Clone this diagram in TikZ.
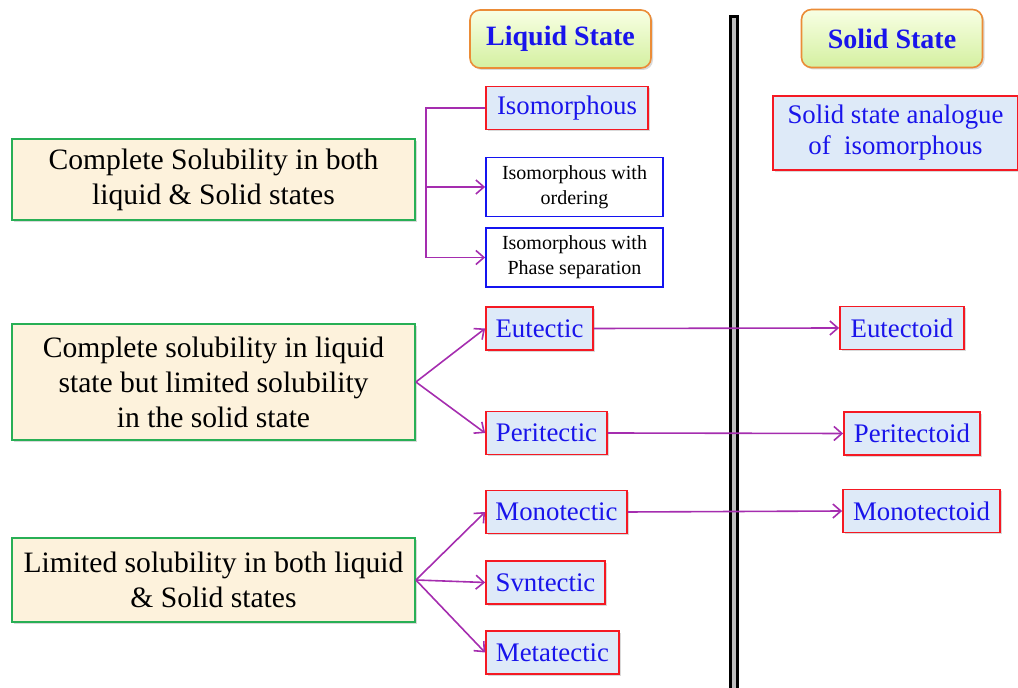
\documentclass[tikz,border=0pt]{standalone}
\usepackage{fontspec}
\setmainfont{Liberation Serif}
\usetikzlibrary{arrows.meta,shadows}
\definecolor{LinkPurple}{RGB}{165,45,175}
\definecolor{LabelBlue}{RGB}{25,20,235}
\definecolor{HeadOrange}{RGB}{235,140,55}
\definecolor{HeadTop}{RGB}{248,255,228}
\definecolor{HeadBot}{RGB}{212,240,160}
\definecolor{KindGreen}{RGB}{40,175,85}
\definecolor{KindFill}{RGB}{253,242,220}
\definecolor{PhaseRed}{RGB}{245,25,35}
\definecolor{PhaseFill}{RGB}{222,234,248}
\definecolor{SubBlue}{RGB}{20,20,240}
\definecolor{BarGray}{RGB}{190,190,190}

\begin{document}
\begin{tikzpicture}[x=0.5pt,y=-0.5pt,
    head/.style={draw=HeadOrange, line width=0.8pt, rounded corners=5pt, top color=HeadTop, bottom color=HeadBot,
      text=LabelBlue, font=\fontsize{14}{16}\selectfont\bfseries, minimum width=90.5pt, minimum height=29pt,
      drop shadow={opacity=0.3, shadow xshift=1pt, shadow yshift=-1pt}},
    kind/.style={draw=KindGreen, line width=0.9pt, fill=KindFill, align=center, font=\fontsize{14.8}{17.5}\selectfont,
      minimum width=201.5pt, drop shadow={opacity=0.3, shadow xshift=1pt, shadow yshift=-1pt}},
    phase/.style={draw=PhaseRed, line width=0.9pt, fill=PhaseFill, text=LabelBlue, align=center,
      font=\fontsize{13.4}{15.5}\selectfont, minimum height=21.5pt,
      drop shadow={opacity=0.3, shadow xshift=1pt, shadow yshift=-1pt}},
    sub/.style={draw=SubBlue, line width=0.9pt, fill=white, align=center, font=\fontsize{10}{12.5}\selectfont,
      minimum width=88.5pt, minimum height=29.5pt},
    link/.style={draw=LinkPurple, line width=0.8pt},
    arrow/.style={link, -{Straight Barb[length=4pt,width=7pt]}}]
  \useasboundingbox (0,0) rectangle (1018,688);

  \draw[line width=1.5pt, fill=BarGray] (730.5,17) rectangle (737.5,700);

  \node[head] (liq) at (560.5,39) {Liquid State};
  \node[head] (sol) at (892,38.5) {Solid State};

  \node[phase, minimum width=81pt] (iso) at (567,108) {Isomorphous};
  \node[sub] (isoord) at (574.5,187) {Isomorphous with\\ordering};
  \node[sub] (isophs) at (574.5,257.5) {Isomorphous with\\Phase separation};
  \node[phase, minimum width=122.5pt, minimum height=37pt] (analog) at (895.5,133) {Solid state analogue\\of\ \ isomorphous};

  \node[kind, minimum height=40.5pt] (comp) at (213.5,179.5) {Complete Solubility in both\\liquid \& Solid states};
  \node[kind, minimum height=58pt] (part) at (213.5,382) {Complete solubility in liquid\\state but limited solubility\\in the solid state};
  \node[kind, minimum height=42pt] (lim) at (213.5,580) {Limited solubility in both liquid\\\& Solid states};

  \node[phase, minimum width=53.5pt] (eut) at (539.5,328.5) {Eutectic};
  \node[phase, minimum width=60.5pt] (peri) at (546.5,433) {Peritectic};
  \node[phase, minimum width=70.5pt] (mono) at (556.5,512) {Monotectic};
  \node[phase, minimum width=59.5pt] (syn) at (545.5,582.5) {Svntectic};
  \node[phase, minimum width=66.5pt] (meta) at (552.5,652.5) {Metatectic};

  \node[phase, minimum width=62pt] (eutd) at (902,328) {Eutectoid};
  \node[phase, minimum width=68pt] (perid) at (912,433.5) {Peritectoid};
  \node[phase, minimum width=78.5pt] (monod) at (921.5,511) {Monotectoid};

  \draw[arrow] (iso.west) -- ++(-59,0) coordinate (brk) |- (isophs.west);
  \draw[arrow] (isoord.west -| brk) -- (isoord.west);

  \foreach \t in {eut,peri} \draw[arrow] (part.east) -- (\t.west);
  \foreach \t in {mono,syn,meta} \draw[arrow] (lim.east) -- (\t.west);
  \foreach \a/\b in {eut/eutd,peri/perid,mono/monod} \draw[arrow] (\a.east) -- (\b.west);
\end{tikzpicture}
\end{document}
